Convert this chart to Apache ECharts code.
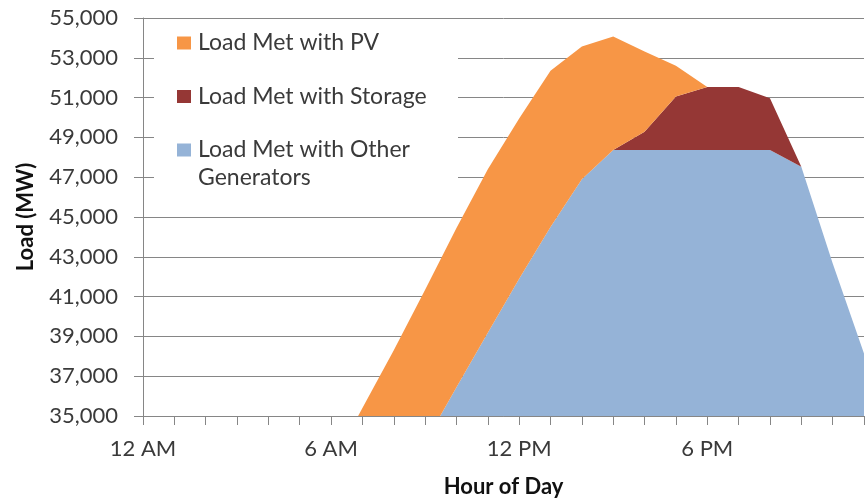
<!DOCTYPE html>
<html>
<head>
<meta charset="utf-8">
<script src="https://cdn.jsdelivr.net/npm/echarts@6/dist/echarts.min.js"></script>
<style>
  html, body { margin: 0; padding: 0; background: #fff; }
  #chart { width: 866px; height: 499px; }
</style>
</head>
<body>
<div id="chart"></div>
<script>
// Hour-of-day categories (12 AM .. 11 PM); only every 6th label is shown
const hourLabels = [
  '12 AM', '1 AM', '2 AM', '3 AM', '4 AM', '5 AM', '6 AM', '7 AM', '8 AM', '9 AM', '10 AM', '11 AM',
  '12 PM', '1 PM', '2 PM', '3 PM', '4 PM', '5 PM', '6 PM', '7 PM', '8 PM', '9 PM', '10 PM', '11 PM'
];

// Load served by each resource (MW), stacked bottom to top: other, storage, PV
const otherGen = [
  31200, 30300, 29700, 29500, 29800, 30800, 32500, 33000, 33300, 33670, 36440, 39180,
  41900, 44500, 46900, 48370, 48370, 48370, 48370, 48370, 48370, 47530, 42670, 38140
];
const storage = [
  0, 0, 0, 0, 0, 0, 0, 0, 0, 0, 0, 0,
  0, 0, 0, 0, 920, 2680, 3160, 3160, 2600, 0, 0, 0
];
const pv = [
  0, 0, 0, 0, 0, 0, 0, 2400, 5000, 7680, 8010, 8220,
  8050, 7850, 6670, 5700, 4030, 1550, 0, 0, 0, 0, 0, 0
];

const seriesNames = ['Load Met with PV', 'Load Met with Storage', 'Load Met with Other Generators'];
const yTicks = { min: 35000, max: 55000, step: 2000 };

const FONT = 'Lato';
const LEGEND_SIZE = 23;
const TEXT = '#3a3a3a';
const AXIS = '#868686';

// Legend box: white panel from x=154 to x=458; text starts after icon (14) + 5 + 2
const BOX_LEFT = 154, BOX_RIGHT = 458, PAD_LEFT = 23;
const ctx = document.createElement('canvas').getContext('2d');
ctx.font = LEGEND_SIZE + 'px ' + FONT;
function padRight(lines) {
  const w = Math.max.apply(null, lines.map(function (s) { return ctx.measureText(s).width; }));
  return Math.max(0, BOX_RIGHT - (BOX_LEFT + PAD_LEFT + 14 + 5 + 2 + w));
}

const chart = echarts.init(document.getElementById('chart'), null, { renderer: 'canvas' });

function area(name, data, color) {
  return {
    name: name,
    type: 'line',
    stack: 'load',
    data: data,
    color: color,
    showSymbol: false,
    symbol: 'none',
    lineStyle: { width: 0, color: color },
    areaStyle: { color: color, opacity: 1 },
    itemStyle: { color: color },
    clip: true,
    silent: true
  };
}

const legendText = {
  fontFamily: FONT,
  fontSize: LEGEND_SIZE,
  color: TEXT,
  lineHeight: 28,
  padding: [0, 0, 0, 2]
};

chart.setOption({
  animation: false,
  backgroundColor: '#ffffff',
  textStyle: { fontFamily: FONT },
  grid: { left: 143, right: 2, top: 18, bottom: 83, containLabel: false, outerBoundsMode: 'none' },
  legend: [
    {
      data: [seriesNames[0], seriesNames[1]],
      orient: 'vertical',
      left: BOX_LEFT,
      top: 25,
      padding: [4, padRight(['Load Met with PV', 'Load Met with Storage']), 0, PAD_LEFT],
      itemGap: 25.5,
      itemWidth: 14,
      itemHeight: 13,
      icon: 'rect',
      itemStyle: { borderWidth: 0 },
      backgroundColor: '#ffffff',
      textStyle: legendText,
      selectedMode: false
    },
    {
      data: [seriesNames[2]],
      orient: 'vertical',
      left: BOX_LEFT,
      top: 108,
      padding: [0, padRight(['Load Met with Other', 'Generators']), 13, PAD_LEFT],
      itemWidth: 14,
      itemHeight: 13,
      icon: 'rect',
      itemStyle: { borderWidth: 0 },
      backgroundColor: '#ffffff',
      formatter: function () { return '\nLoad Met with Other\nGenerators'; },
      textStyle: legendText,
      selectedMode: false
    }
  ],
  xAxis: {
    type: 'category',
    data: hourLabels,
    boundaryGap: false,
    name: 'Hour of Day',
    nameLocation: 'middle',
    nameGap: 60,
    nameTextStyle: { fontFamily: FONT, fontSize: 22, fontWeight: 'bold', color: '#111' },
    axisLine: { show: true, lineStyle: { color: AXIS, width: 1 } },
    axisTick: { show: true, interval: 0, length: 9, lineStyle: { color: AXIS } },
    axisLabel: { interval: 5, margin: 22, fontFamily: FONT, fontSize: 22, color: TEXT },
    splitLine: { show: false }
  },
  yAxis: {
    type: 'value',
    min: yTicks.min,
    max: yTicks.max,
    interval: yTicks.step,
    name: 'Load (MW)',
    nameLocation: 'middle',
    nameGap: 106,
    nameTextStyle: { fontFamily: FONT, fontSize: 22, fontWeight: 'bold', color: '#111' },
    axisLine: { show: true, lineStyle: { color: AXIS, width: 1 } },
    axisTick: { show: true, length: 9, lineStyle: { color: AXIS } },
    axisLabel: {
      margin: 25,
      fontFamily: FONT,
      fontSize: 22,
      color: TEXT,
      formatter: function (v) { return v.toLocaleString('en-US'); }
    },
    splitLine: { show: true, lineStyle: { color: AXIS, width: 1 } }
  },
  series: [
    area(seriesNames[2], otherGen, '#95B3D7'),
    area(seriesNames[1], storage, '#953735'),
    area(seriesNames[0], pv, '#F79646')
  ]
});
</script>
</body>
</html>
